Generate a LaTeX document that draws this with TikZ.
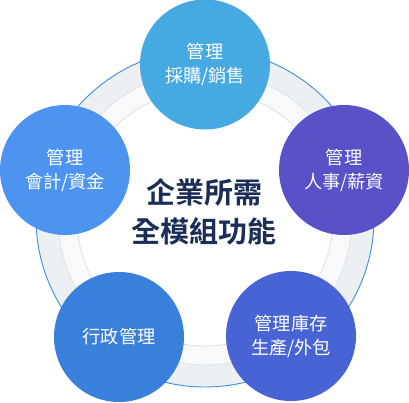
\documentclass[tikz,border=0pt]{standalone}
\usepackage{fontspec}
\newfontfamily\cjk{Noto Sans CJK TC}
\newfontfamily\cjkb{Noto Sans CJK TC Bold}
\definecolor{ringblue}{HTML}{3C8EDF}
\definecolor{bandout}{HTML}{EDF0F3}
\definecolor{bandmid}{HTML}{F7F9FB}
\definecolor{bandline}{HTML}{DDE1E6}
\definecolor{ctop}{HTML}{46A9E1}
\definecolor{cleft}{HTML}{4D94F1}
\definecolor{cright}{HTML}{5A50C8}
\definecolor{cbr}{HTML}{4763D4}
\definecolor{cbl}{HTML}{3880DB}
\definecolor{navy}{HTML}{1B2E58}
\begin{document}
\begin{tikzpicture}[x=1pt,y=-1pt,
  modcircle/.style={circle,minimum size=130pt,inner sep=0pt,text=white,
    font=\cjk\fontsize{18.2}{24}\selectfont,align=center},
  centertext/.style={text=navy,font=\cjkb\fontsize{29}{39}\selectfont,align=center}]
\useasboundingbox (0,0) rectangle (409,402);
% ring background
\fill[bandout] (205,218) circle (169);
\draw[ringblue,line width=0.9pt] (205,218) circle (169);
\fill[bandmid] (205,218) circle (147);
\draw[bandline,line width=0.8pt] (205,218) circle (147);
\fill[white] (205,218) circle (128);
\draw[bandline,line width=0.8pt] (205,218) circle (128);
% modules
\node[modcircle,fill=ctop] (top) at (205,64.5) {管理\\採購/銷售};
\node[modcircle,fill=cleft] (left) at (65,170) {管理\\會計/資金};
\node[modcircle,fill=cright] (right) at (344,170) {管理\\人事/薪資};
\node[modcircle,fill=cbr] (br) at (291,336) {管理庫存\\生產/外包};
\node[modcircle,fill=cbl] (bl) at (119,337) {行政管理};
% center text
\node[centertext] (center) at (204,212) {企業所需\\全模組功能};
\end{tikzpicture}
\end{document}
